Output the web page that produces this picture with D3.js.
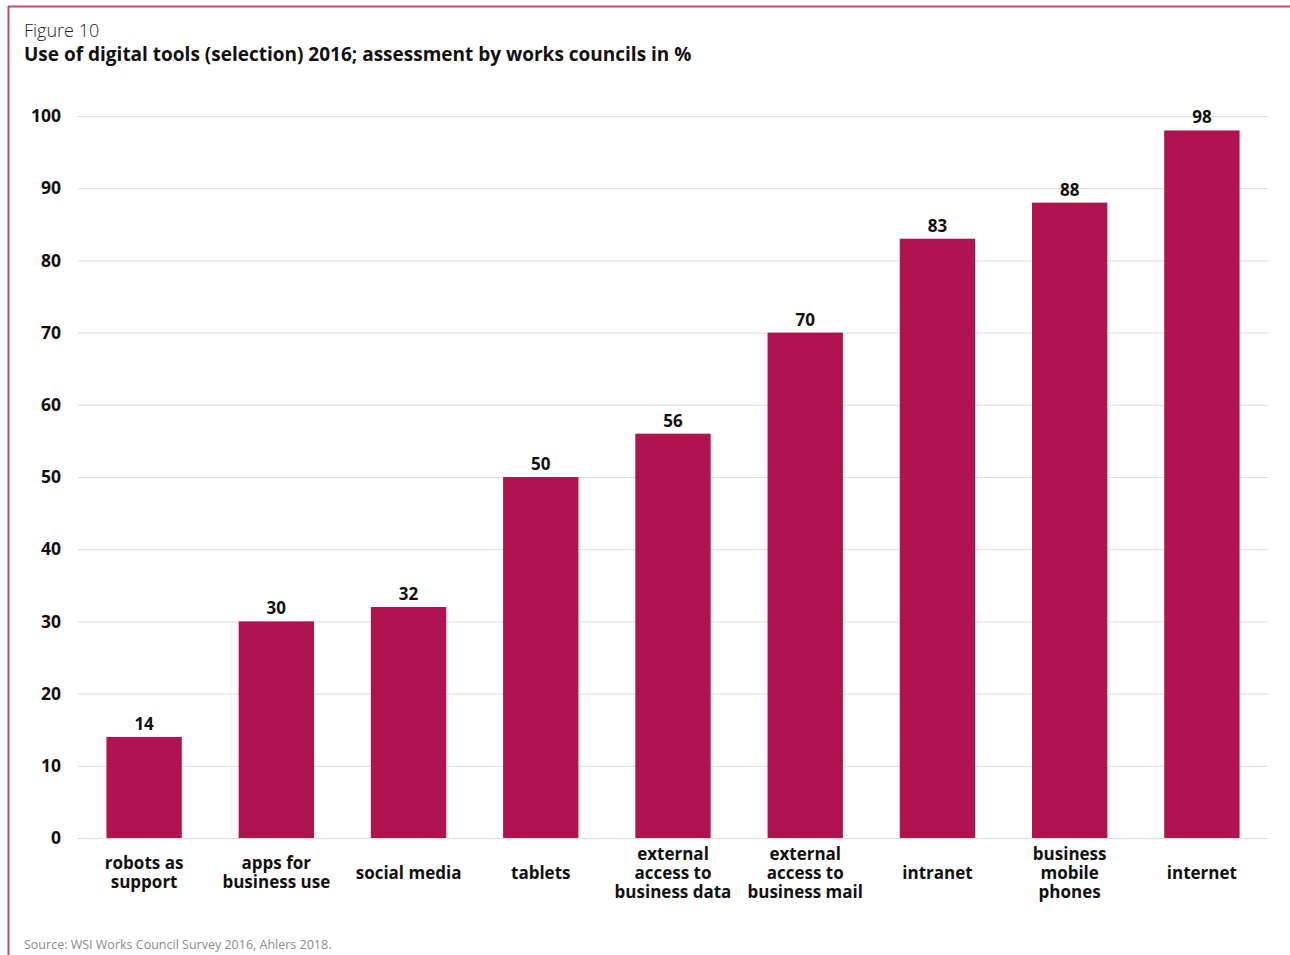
<!DOCTYPE html>
<html>
<head>
<meta charset="utf-8">
<script src="https://cdn.jsdelivr.net/npm/d3@7"></script>
<style>
  html, body { margin: 0; padding: 0; background: #fff; }
  svg { display: block; font-family: "Open Sans", "Noto Sans", sans-serif; }
</style>
</head>
<body>
<svg id="chart" width="1290" height="955"></svg>
<script>
// Share of works councils reporting each digital tool (%)
const categories = [
  ["robots as", "support"],
  ["apps for", "business use"],
  ["social media"],
  ["tablets"],
  ["external", "access to", "business data"],
  ["external", "access to", "business mail"],
  ["intranet"],
  ["business", "mobile", "phones"],
  ["internet"]
];
const values = [14, 30, 32, 50, 56, 70, 83, 88, 98];
const yTicks = [0, 10, 20, 30, 40, 50, 60, 70, 80, 90, 100];

const barColor = "#b0144f";
const frameColor = "#c8477a";

const svg = d3.select("#chart");

// Frame lines along the top and left edges
svg.append("line").attr("x1", 8).attr("x2", 1290).attr("y1", 6.5).attr("y2", 6.5)
  .attr("stroke", frameColor).attr("stroke-width", 2);
svg.append("line").attr("x1", 8.5).attr("x2", 8.5).attr("y1", 6).attr("y2", 955)
  .attr("stroke", frameColor).attr("stroke-width", 2);

// Headings
svg.append("text").attr("x", 24).attr("y", 37)
  .attr("font-size", 18).attr("font-weight", 300).attr("fill", "#222")
  .text("Figure 10");
svg.append("text").attr("x", 24).attr("y", 61)
  .attr("font-size", 19).attr("font-weight", 700).attr("fill", "#111")
  .text("Use of digital tools (selection) 2016; assessment by works councils in %");

const margin = { left: 78, right: 1268, top: 116, bottom: 838 };

const x = d3.scaleBand()
  .domain(d3.range(values.length))
  .range([margin.left, margin.right])
  .paddingInner(0.43)
  .paddingOuter(0.215);

const y = d3.scaleLinear().domain([0, 100]).range([margin.bottom, margin.top]);

// Horizontal gridlines
const yAxis = d3.axisLeft(y).tickValues(yTicks).tickSize(-(margin.right - margin.left)).tickPadding(17);
const gY = svg.append("g").attr("transform", `translate(${margin.left},0)`).call(yAxis);
gY.select(".domain").remove();
gY.selectAll(".tick line").attr("stroke", "#dcdcdc").attr("stroke-width", 1);
gY.selectAll(".tick text")
  .attr("font-size", 17.5).attr("font-weight", 700).attr("fill", "#111")
  .attr("font-family", "\"Open Sans\", \"Noto Sans\", sans-serif");

// Bars
svg.append("g").selectAll("rect").data(values).join("rect")
  .attr("x", (d, i) => x(i))
  .attr("width", x.bandwidth())
  .attr("y", d => y(d))
  .attr("height", d => y(0) - y(d))
  .attr("fill", barColor);

// Value labels
svg.append("g").selectAll("text").data(values).join("text")
  .attr("x", (d, i) => x(i) + x.bandwidth() / 2)
  .attr("y", d => y(d) - 7)
  .attr("text-anchor", "middle")
  .attr("font-size", 17).attr("font-weight", 700).attr("fill", "#111")
  .text(d => d);

// Category labels, multi-line, centred on the middle line
const lineH = 19;
const gX = svg.append("g");
categories.forEach((lines, i) => {
  const cx = x(i) + x.bandwidth() / 2;
  const t = gX.append("text")
    .attr("text-anchor", "middle")
    .attr("font-size", 17).attr("font-weight", 700).attr("fill", "#111");
  const startY = 878.5 - (lines.length - 1) * lineH / 2;
  lines.forEach((ln, j) => {
    t.append("tspan").attr("x", cx).attr("y", startY + j * lineH).text(ln);
  });
});

// Source note
svg.append("text").attr("x", 24).attr("y", 949)
  .attr("font-size", 12.5).attr("fill", "#8a8a8a")
  .text("Source: WSI Works Council Survey 2016, Ahlers 2018.");
</script>
</body>
</html>
